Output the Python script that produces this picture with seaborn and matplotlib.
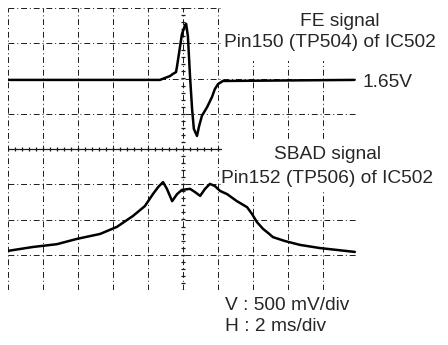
import matplotlib
matplotlib.use('Agg')
import matplotlib.pyplot as plt
import matplotlib.patches as mpatches
import numpy as np
import pandas as pd
import seaborn as sns

# scope traces, in divisions (x: 0..10, y: -4..4)
fe_x = [0, 4.34, 4.63, 4.71, 4.8, 4.83, 4.97, 5.06, 5.09, 5.14, 5.2, 5.26, 5.31,
        5.4, 5.46, 5.54, 5.69, 5.83, 5.91, 6.0, 6.14, 9.9]
fe_y = [1.96, 1.96, 2.07, 2.13, 2.18, 2.35, 3.26, 3.52, 3.55, 3.2, 2.07, 1.13, 0.57,
        0.37, 0.65, 0.94, 1.19, 1.48, 1.70, 1.84, 1.93, 1.96]

sbad_x = [0, 0.71, 1.4, 1.97, 2.63, 3.11, 3.57, 3.91, 4.14, 4.29, 4.43, 4.54, 4.69,
          4.83, 4.97, 5.2, 5.34, 5.49, 5.63, 5.77, 5.91, 6.06, 6.26, 6.54, 6.83,
          6.97, 7.11, 7.29, 7.43, 7.57, 7.91, 8.34, 8.91, 9.91]
sbad_y = [-2.89, -2.78, -2.7, -2.55, -2.41, -2.21, -1.9, -1.62, -1.28, -1.08, -0.94,
          -1.13, -1.48, -1.28, -1.16, -1.13, -1.22, -1.33, -1.13, -0.99, -1.05,
          -1.19, -1.28, -1.48, -1.65, -1.84, -2.07, -2.27, -2.38, -2.5, -2.61,
          -2.72, -2.81, -2.92]

fe_labels = ['FE signal', 'Pin150 (TP504) of IC502']
sbad_labels = ['SBAD signal', 'Pin152 (TP506) of IC502']
level_label = '1.65V'
scale_labels = ['V : 500 mV/div', 'H : 2 ms/div']

sns.set_style('white')
plt.rcParams['font.family'] = ['Liberation Sans', 'DejaVu Sans']

W, H = 448, 345
fig = plt.figure(figsize=(W / 100, H / 100), dpi=100)
ax = fig.add_axes([8 / W, 55 / H, 350 / W, 282 / H])
ax.set_xlim(0, 10)
ax.set_ylim(-4, 4)
ax.axis('off')

# graticule
grid_kw = dict(color='#1a1a1a', lw=0.7, linestyle=(0, (6, 3, 1, 3)), zorder=1)
for gx in range(11):
    ax.axvline(gx, **grid_kw)
for gy in range(-4, 5):
    if gy == 0:
        ax.axhline(gy, color='#1a1a1a', lw=0.9, zorder=1)
    else:
        ax.axhline(gy, **grid_kw)

# small ticks on the centre lines
ticks = np.arange(0, 10.01, 0.2)
ax.vlines(ticks, -0.07, 0.07, color='#1a1a1a', lw=0.9, zorder=1)
ticks_y = np.arange(-4, 4.01, 0.2)
ax.hlines(ticks_y, 4.93, 5.07, color='#1a1a1a', lw=0.9, zorder=1)

# white patches where the labels sit over the graticule
ax.add_patch(mpatches.Rectangle((6.11, 2.5), 5, 2, facecolor='white',
                                edgecolor='none', clip_on=False, zorder=2))
ax.add_patch(mpatches.Rectangle((6.11, -1.19), 5, 1.47, facecolor='white',
                                edgecolor='none', clip_on=False, zorder=2))

fe = pd.DataFrame({'t': fe_x, 'v': fe_y})
sbad = pd.DataFrame({'t': sbad_x, 'v': sbad_y})
sns.lineplot(data=fe, x='t', y='v', ax=ax, color='black', lw=1.8,
             estimator=None, sort=False, zorder=3)
sns.lineplot(data=sbad, x='t', y='v', ax=ax, color='black', lw=1.8,
             estimator=None, sort=False, zorder=3)
ax.axis('off')


def px_text(x, y, s, **kw):
    fig.text(x / W, 1 - y / H, s, fontsize=13.8, va='baseline', zorder=4, **kw)


px_text(340, 26, fe_labels[0], ha='center')
px_text(330, 47, fe_labels[1], ha='center')
px_text(362, 87, level_label, ha='left')
px_text(328, 159, sbad_labels[0], ha='center')
px_text(327, 183, sbad_labels[1], ha='center')
px_text(225, 310, scale_labels[0], ha='left')
px_text(225, 331, scale_labels[1], ha='left')

fig.savefig('out.png', dpi=100)
